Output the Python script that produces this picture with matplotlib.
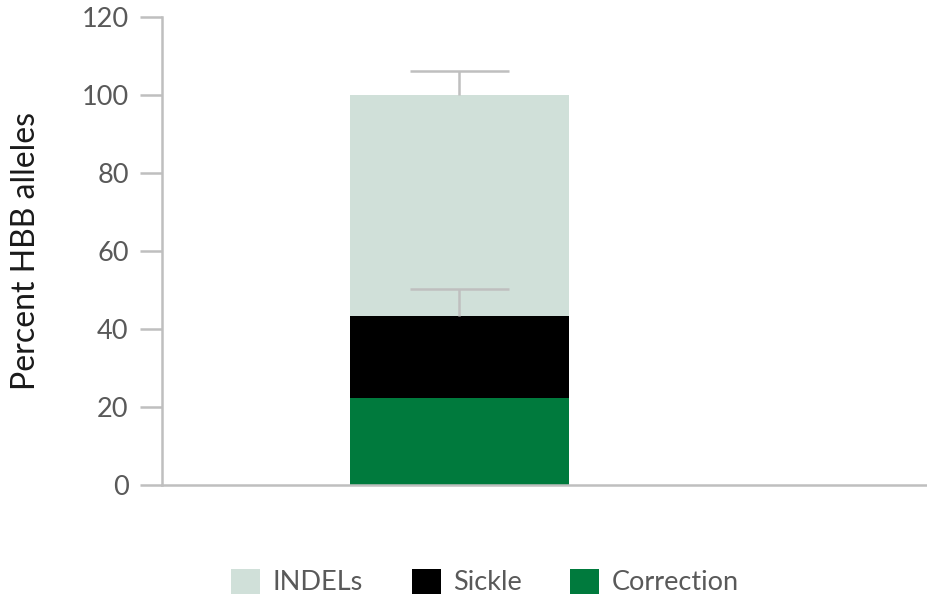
import matplotlib.pyplot as plt
from matplotlib.patches import Patch

plt.rcParams['font.family'] = ['Lato', 'DejaVu Sans']

# Stacked allele fractions (percent) for the single sample
segments = ['Correction', 'Sickle', 'INDELs']
values = [22.4, 20.9, 56.7]
colors = ['#007a3d', '#000000', '#d0e0d9']
# Upward error bars at the top of the Sickle and INDELs segments
err_segments = ['Sickle', 'INDELs']
err_values = [7.0, 6.2]

legend_order = ['INDELs', 'Sickle', 'Correction']
yticks = [0, 20, 40, 60, 80, 100, 120]

grey = '#bfbfbf'
text_grey = '#595959'

fig = plt.figure(figsize=(9.27, 5.95), dpi=100)
ax = fig.add_axes([162 / 927, 110 / 595, 765 / 927, 468 / 595])

bottom = 0
tops = {}
for name, val, col in zip(segments, values, colors):
    ax.bar(0, val, width=1.0, bottom=bottom, color=col, zorder=2)
    bottom += val
    tops[name] = bottom

# one-sided error bars: stem plus upper cap only
cap = 0.225
for name, err in zip(err_segments, err_values):
    y0 = tops[name]
    ax.vlines(0, y0, y0 + err, color=grey, lw=1.8, zorder=3)
    ax.hlines(y0 + err, -cap, cap, color=grey, lw=1.8, zorder=3)

ax.set_xlim(-1.358, 2.135)
ax.set_ylim(0, 120)
ax.set_yticks(yticks)
ax.set_xticks([])

for side in ['top', 'right']:
    ax.spines[side].set_visible(False)
for side in ['left', 'bottom']:
    ax.spines[side].set_color(grey)
    ax.spines[side].set_linewidth(1.8)

ax.tick_params(axis='y', length=16, width=1.8, color=grey, labelcolor=text_grey,
               labelsize=19.5, pad=8)
ax.set_ylabel('Percent HBB alleles', fontsize=23, color='#1a1a1a')
ax.yaxis.set_label_coords(-0.158, 0.5)

handles = [Patch(facecolor=colors[segments.index(n)], edgecolor='none', label=n)
           for n in legend_order]
leg = fig.legend(handles=handles, loc='center', ncol=3, frameon=False,
                 bbox_to_anchor=(485 / 927, 1 - 582 / 595), fontsize=19.5,
                 handlelength=1.07, handleheight=1.07, handletextpad=0.45,
                 columnspacing=1.8)
for t in leg.get_texts():
    t.set_color(text_grey)

fig.savefig('out.png', dpi=100)
